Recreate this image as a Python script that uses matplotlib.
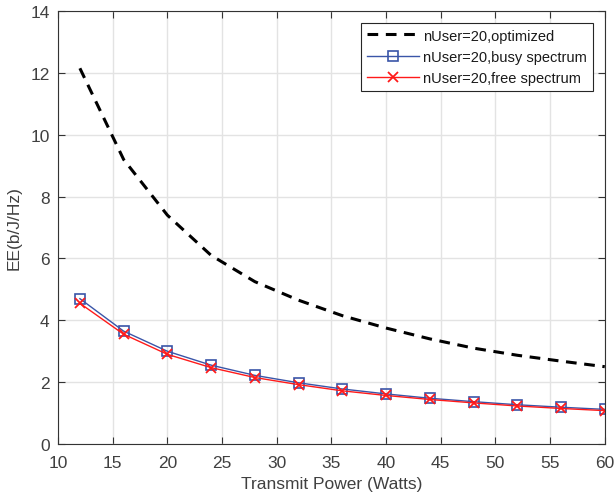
import matplotlib
matplotlib.use("Agg")
import matplotlib.pyplot as plt

power = [12, 16, 20, 24, 28, 32, 36, 40, 44, 48, 52, 56, 60]
ee_optimized = [12.15, 9.2, 7.4, 6.1, 5.25, 4.65, 4.15, 3.75, 3.4, 3.1, 2.87, 2.68, 2.5]
ee_busy = [4.7, 3.65, 3.0, 2.55, 2.22, 1.98, 1.78, 1.62, 1.48, 1.37, 1.27, 1.19, 1.12]
ee_free = [4.55, 3.55, 2.9, 2.47, 2.15, 1.92, 1.72, 1.57, 1.44, 1.33, 1.23, 1.15, 1.08]

plt.rcParams['font.family'] = ['Liberation Sans', 'DejaVu Sans']

fig = plt.figure(figsize=(6.14, 5.02), dpi=100)
ax = fig.add_axes([0.0945, 0.1135, 0.8905, 0.8625])

ax.plot(power, ee_optimized, color='black', linestyle=(0, (3.5, 2.5)), linewidth=2.2,
        label='nUser=20,optimized')
ax.plot(power, ee_busy, color='#3a55a8', linewidth=1.0, marker='s', markersize=6.5,
        markerfacecolor='none', markeredgecolor='#3a55a8', markeredgewidth=1.2,
        label='nUser=20,busy spectrum')
ax.plot(power, ee_free, color='#ff1a1a', linewidth=1.0, marker='x', markersize=6.5,
        markeredgewidth=1.3, label='nUser=20,free spectrum')

txt = '#404040'
ax.set_xlim(10, 60)
ax.set_ylim(0, 14)
ax.set_xticks(range(10, 61, 5))
ax.set_yticks(range(0, 15, 2))
ax.grid(True, color='#e3e3e3', linewidth=1.0)
ax.set_axisbelow(True)
for s in ax.spines.values():
    s.set_color('#333333')
    s.set_linewidth(0.8)
ax.tick_params(direction='in', length=5, width=0.8, color='#333333', labelcolor=txt,
               labelsize=12.5, top=True, right=True)
ax.tick_params(axis='x', pad=8)
ax.tick_params(axis='y', pad=6)
ax.set_xlabel('Transmit Power (Watts)', fontsize=12.5, color=txt, labelpad=4)
ax.set_ylabel('EE(b/J/Hz)', fontsize=12.5, color=txt, labelpad=6)

leg = ax.legend(loc='upper right', fontsize=10.5, frameon=True, fancybox=False,
                edgecolor='#262626', framealpha=1, borderaxespad=0.8,
                handlelength=3.6, labelspacing=0.5, handletextpad=0.3)
leg.get_frame().set_linewidth(0.8)
for t in leg.get_texts():
    t.set_color('#1a1a1a')

fig.savefig('out.png', dpi=100)
